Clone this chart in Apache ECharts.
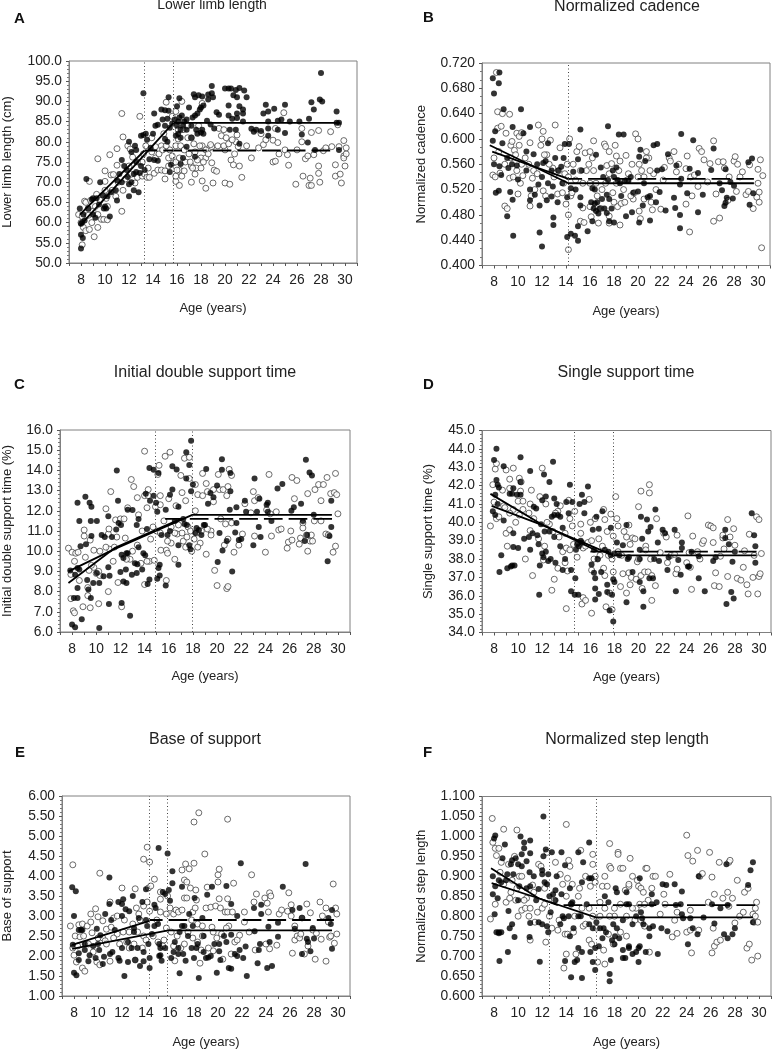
<!DOCTYPE html>
<html><head><meta charset="utf-8">
<style>html,body{margin:0;padding:0;background:#fff}#c{width:772px;height:1050px}</style>
<script src="https://cdn.jsdelivr.net/npm/echarts@6/dist/echarts.min.js"></script>
</head><body><div id="c"></div>
<script>
const xTickLabels=[8,10,12,14,16,18,20,22,24,26,28,30];
const xTickMarks=[7,8,9,10,11,12,13,14,15,16,17,18,19,20,21,22,23,24,25,26,27,28,29,30,31];

const aFilled=[[8,53.6],[8,57],[8.15,56.2],[7.9,63.5],[8.1,60],[8,59.7],[8.2,62],[8.45,70.8],[8.9,65.7],[9,62],[9.2,61.2],[9.3,66],[9.6,70],[9.5,64.5],[9.8,66.8],[10,64],[10.1,63.5],[10.4,61.5],[10.2,66.5],[10.9,68],[11,65.5],[11.2,72],[11.4,75.5],[11.6,74],[11.8,73],[11.9,71.3],[12,66.5],[12,80],[12.2,77.5],[12.4,72],[12.5,79],[12.6,78],[12.2,70],[12.4,68],[12.8,67.5],[12.6,72.5],[12.9,72.3],[13,81.5],[13.2,81.7],[13.4,82],[13.2,92],[13.3,73],[13.5,80.5],[13.8,78.5],[13.7,75.7],[14,82],[14.2,84],[14.4,84.2],[14.1,75.5],[14.4,75.3],[14.1,87],[14.7,88],[15,87.8],[15,80.7],[15.2,80],[15.3,91],[15.3,87.7],[15,84],[14.8,85.5],[15.2,85.7],[15.4,83.5],[15.4,72.5],[15.5,74.3],[16,88.8],[16,84],[16.1,85],[16.2,86],[16.3,83],[16.4,86.5],[16.1,82],[16.3,81],[15.9,81.5],[16.2,90.8],[16.6,85],[16.8,83],[16.3,74.5],[16.5,76],[16.8,78.8],[17,88.5],[17.3,86],[17.5,86.5],[17.7,87],[17.9,88],[18,88.5],[18.2,89],[17.4,91.8],[17.5,91],[17.8,91.5],[18.1,91.2],[18.6,91.7],[18.6,90.5],[18.9,92],[18.9,93.8],[19,91],[17.2,81],[17.5,76.3],[17.7,82],[18,82.3],[18.1,83],[18.5,85.2],[18.8,84.3],[19.1,83.3],[19.3,87.3],[19.5,86.7],[20,93.2],[20.3,93.2],[20.5,93.2],[20.9,92.8],[20.7,91.5],[21,91],[20.3,89],[21,87],[21.2,88.8],[20.3,86.5],[20.6,85.7],[21,85.9],[21.5,87],[21.5,88],[21.2,93.3],[21.6,92.7],[21.8,91],[21.5,85],[20.9,83],[20.4,83],[21.2,79.5],[22.2,83.2],[22.4,82.5],[22.6,83],[23,82.7],[23.2,87],[23.4,89.2],[23.6,81.5],[23.6,83.3],[23.6,85],[23.6,87.5],[24.1,88.2],[24.4,83],[24.4,85.2],[24.7,85.5],[25,82.2],[25,89.2],[25.4,85],[26.2,85],[26.4,81.8],[27,85.7],[27.2,89.8],[27.4,88],[27.5,78],[26.9,79.8],[27.9,90.5],[28.1,90],[28,97],[29.3,87.5],[29.3,84.7],[29.5,84.7],[29.5,78],[16.5,84],[16.8,85.5],[15.6,84.5],[15.8,85.5],[17.2,84],[17.6,83],[18.2,82],[11,70.5],[11.4,70],[12,69.5],[12.6,75],[13,74],[10.5,67.5],[9.9,63.5],[9,66],[8.6,63.5],[8.3,60.5]];
const aOpen=[[7.8,62],[8,60],[8.1,54.5],[8.2,58.8],[8.4,58],[8.7,58.3],[9.1,56.5],[9.4,58.8],[8.1,61.5],[8.3,65.3],[8.4,65],[8.6,61.8],[8.7,70.2],[8.8,65.5],[9,62.8],[9.3,67],[9.4,75.8],[9.4,62],[9.7,60.8],[9.6,65.5],[9.9,60.8],[10,68],[10,70.2],[10,72.8],[10.2,60.7],[10.2,64],[10.4,76.8],[10.5,71.8],[10.7,71.9],[10.9,66.5],[11,74.2],[11,78.3],[11.1,70],[11.4,62.8],[11.4,87],[11.5,81.2],[11.7,70.8],[11.9,79],[12,74],[12.1,78.2],[12.3,76.2],[12.5,69.8],[12.7,71.2],[12.9,86.3],[13.1,75],[13.1,71.5],[13.3,72],[13.4,79],[13.5,71.2],[13.7,71.2],[13.9,81],[14.1,72.2],[14.4,73],[14.2,76],[14.7,73],[14.7,79],[15,70.8],[15,72.8],[15.1,89.8],[15.3,76],[15.4,78],[15.6,86.3],[15.7,74.8],[15.9,70.2],[15.9,71.5],[16.2,73],[16.2,69.2],[16.4,71.5],[16.6,72.8],[15.9,87.5],[15.9,79],[16.1,80.7],[16.5,83],[16.4,90],[16.9,81],[17.2,81],[17.2,70],[17.2,74],[17.4,79.5],[17.5,72],[17.6,73.5],[17.8,84],[18,76],[18.1,79],[18.1,89.5],[18.1,70.3],[18.4,68.5],[18.4,76],[18.7,78.5],[18.9,74.8],[18.9,78.8],[19,69.8],[19.1,73],[19.3,72.7],[19.4,79],[19.5,83.3],[19.7,81.5],[19.9,83],[20,78],[20.1,81],[20,69.8],[20.4,69.5],[20.5,75.5],[20.7,74.3],[20.8,77],[20.9,80],[21.1,78.8],[21.2,74],[21,81.7],[21.4,71.2],[21.8,79],[22.2,76],[22.8,78.5],[23,82],[23.2,79.3],[23.4,80.5],[24,80.4],[24,75],[24.2,75.2],[24.2,83.3],[24.4,79.8],[24.5,77],[24.9,87.2],[25,78],[25.2,76.8],[25.3,74.2],[25.9,69.5],[26,78],[26.4,83.3],[26.4,80],[26.5,71.5],[26.7,75.8],[26.9,76.5],[27,69.2],[27.1,71],[27.2,69.2],[27.2,82.3],[27.4,76.8],[27.8,82.8],[27.8,74],[27.8,72.2],[27.9,70],[28.2,77.8],[28.4,78.5],[28.8,82.5],[28.9,78.8],[29.2,74.3],[29.2,71.5],[29.5,78.8],[29.6,72],[29.7,69.8],[29.9,80.3],[29.9,76.5],[30,74],[29.9,76],[30.1,77],[30.1,78.5],[29.4,84.2],[13.9,77.5],[14.2,78.8],[14.5,77],[14.8,78],[15.1,79],[15.3,74],[15.6,76.5],[15.9,75],[16,73],[16.2,76],[16.3,79],[16.6,78],[16.7,75],[17,77],[17.1,75],[17.3,73.5],[17.5,77.5],[17.7,75.5],[17.9,79],[18,73.5],[18.2,75],[18.4,78],[18.6,77],[18.8,79.3],[12.2,72],[11.5,68],[10.6,68],[10.1,66],[9.2,64],[8.9,60],[8.6,63.5],[12.7,75],[13.2,77],[13.6,73.5],[14.9,82],[16.1,83],[16.9,84],[19.9,79],[20.3,79.5],[20.6,80.5]];
const aLines={solid:[[7.9,59.2],[15.7,84.7],[29.6,84.7]],slope:[[7.9,62],[13.3,77.85]],dash:[[13.3,77.85],[28.8,77.85]]};
const aBreaks=[13.25,15.65];

const bFilled=[[7.9,.696],[8,.672],[8.4,.688],[8.45,.705],[8.1,.612],[7.9,.597],[8,.56],[8.15,.515],[8.4,.518],[8.45,.557],[8.6,.543],[8.7,.593],[8.8,.647],[9.1,.478],[9.2,.554],[9.35,.516],[9.55,.619],[9.55,.504],[9.6,.447],[9.9,.558],[10,.536],[10.25,.647],[10.45,.609],[10.7,.55],[11,.619],[11,.503],[11,.52],[11.3,.576],[11.4,.512],[11.8,.495],[11.7,.528],[11.8,.452],[12,.43],[12.1,.562],[12.4,.503],[12.5,.593],[12.5,.53],[12.8,.509],[12.95,.476],[12.95,.464],[12.9,.525],[13.1,.57],[13.35,.55],[13.6,.556],[13.8,.57],[13.9,.592],[14.25,.592],[14.1,.508],[14.1,.445],[14.4,.45],[14.4,.522],[14.6,.548],[14.75,.447],[15,.439],[15,.462],[15,.568],[15.2,.615],[15.2,.508],[15.2,.495],[15.8,.454],[16.2,.47],[16.2,.522],[16.4,.52],[16.4,.498],[16.5,.486],[16.7,.482],[16.8,.49],[16.5,.575],[16.9,.555],[17,.505],[17.1,.54],[17.4,.483],[17.4,.512],[17.5,.62],[17.6,.505],[17.6,.47],[17.8,.49],[17.9,.55],[18,.468],[18.2,.555],[18.3,.535],[18.4,.607],[18.8,.607],[18.6,.51],[18.9,.534],[19,.478],[19.2,.534],[19.5,.484],[19.6,.515],[20.1,.468],[20,.517],[20.1,.572],[20.2,.583],[20.4,.495],[20.6,.565],[20.8,.508],[21,.51],[21,.471],[21.3,.59],[21.5,.5],[21.6,.55],[21.6,.592],[21.8,.516],[22,.552],[22.3,.487],[22.5,.576],[23,.507],[23.1,.491],[23.2,.558],[23.5,.48],[23.5,.459],[23.6,.537],[23.6,.608],[23.5,.528],[24.1,.514],[24.3,.553],[24.6,.598],[25,.484],[25,.546],[25.4,.512],[26.1,.551],[26.3,.585],[26.8,.53],[27,.519],[27.2,.494],[27.3,.499],[27.3,.552],[27.4,.507],[27.7,.532],[27.9,.506],[28,.526],[29.2,.563],[29.3,.496],[29.5,.569],[29.6,.514],[11.6,.56],[12,.54],[12.3,.565],[12.8,.55],[13.3,.5],[13.7,.53],[16.1,.5],[16.3,.49],[16.6,.5],[17.2,.49],[17.5,.535],[18,.54],[18.5,.53],[19.4,.54],[20.5,.53],[9.1,.57],[9.5,.56],[10.7,.58],[15.3,.55],[14.8,.52]];
const bOpen=[[7.9,.543],[8,.57],[8.1,.54],[8.2,.705],[8.3,.643],[8.3,.617],[8.5,.546],[8.6,.62],[8.7,.64],[8.9,.494],[9,.609],[9.1,.49],[9.3,.639],[9.3,.538],[9.4,.59],[9.5,.596],[9.6,.54],[9.7,.582],[9.9,.609],[10,.513],[10.1,.604],[10.1,.59],[10.2,.53],[10.3,.61],[10.4,.542],[10.6,.57],[11,.594],[11,.494],[11.1,.51],[11.2,.538],[11.4,.52],[11.7,.622],[11.9,.59],[12,.6],[12.1,.612],[12.1,.518],[12.3,.51],[12.4,.575],[12.7,.598],[12.9,.554],[13.1,.622],[13.3,.513],[13.5,.586],[13.7,.515],[13.9,.545],[14,.497],[14.1,.56],[14.2,.48],[14.2,.425],[14.2,.54],[14.3,.6],[14.4,.51],[14.6,.56],[14.9,.58],[15.1,.588],[15.2,.47],[15.2,.55],[15.4,.491],[15.5,.468],[15.6,.578],[15.9,.56],[16,.493],[16,.58],[16.1,.477],[16.3,.597],[16.3,.55],[16.5,.53],[16.7,.467],[17,.52],[17.2,.592],[17.3,.588],[17.4,.558],[17.6,.478],[17.6,.467],[17.6,.58],[17.8,.561],[18,.5],[18.1,.59],[18.2,.573],[18.3,.493],[18.5,.464],[18.5,.565],[18.6,.498],[18.9,.5],[19,.574],[19.2,.545],[19.5,.56],[19.6,.505],[19.7,.515],[19.8,.608],[20,.6],[20.1,.486],[20.2,.474],[20.1,.56],[20.5,.54],[20.7,.58],[20.9,.57],[21.1,.5],[21.2,.488],[21.3,.545],[21.5,.52],[21.9,.489],[22.1,.535],[22.2,.555],[22.6,.57],[22.7,.565],[23,.58],[23.2,.548],[23.4,.56],[24,.553],[24,.497],[24.1,.573],[24.3,.453],[24.4,.54],[24.5,.51],[24.7,.543],[25,.525],[25.1,.585],[25.3,.58],[25.5,.567],[25.8,.532],[26,.561],[26.3,.597],[26.3,.47],[26.5,.513],[26.7,.564],[26.8,.475],[27.1,.564],[27.2,.554],[27.5,.503],[27.6,.54],[28,.565],[28.1,.572],[28.2,.517],[28.3,.56],[28.5,.54],[28.7,.548],[29,.512],[29.2,.517],[29.3,.559],[29.6,.49],[29.9,.508],[30,.53],[30.1,.516],[30,.552],[30.1,.5],[30.2,.567],[30.3,.428],[30.4,.542],[9.8,.575],[10.3,.56],[10.9,.56],[11.3,.55],[11.6,.545],[12.2,.575],[12.6,.56],[13,.54],[13.4,.55],[13.8,.53],[14.5,.515],[14.8,.535],[15.4,.53],[15.7,.55],[16,.53],[16.2,.57],[16.6,.51],[16.9,.49],[17.3,.53],[17.6,.545],[17.9,.515],[18.2,.53],[18.4,.55],[18.8,.52],[19.1,.535],[19.4,.51],[20,.54],[20.3,.55],[20.7,.57],[20.5,.505],[21,.55],[8.4,.58],[8.9,.56],[9.4,.57],[9.9,.55]];
const bLines={solid:[[7.65,.59],[14.2,.53],[29.66,.53]],slope:[[7.85,.58],[14.2,.537]],dash:[[14.2,.537],[29.66,.537]]};
const bBreaks=[14.15];

const cFilled=[[8,6.37],[8.25,6.23],[10.25,6.2],[8.8,6.63],[12.8,6.8],[8.15,7.68],[8.45,7.68],[9.55,7.68],[11.05,7.39],[12.1,7.44],[8.45,8.18],[9.35,8.1],[8.45,9.17],[7.85,9.05],[8.25,8.84],[8.6,9.09],[8.7,10.24],[8.45,12.4],[8.6,11.5],[9.1,12.7],[9.45,12.4],[9.6,12.2],[9.15,10.35],[9.55,11.5],[10.05,11.5],[9.6,10.75],[9.25,8.57],[9.75,8.43],[10.25,8.43],[10.05,8.92],[10.6,8.76],[11.1,8.79],[11,9.2],[10.45,10.8],[11,11.73],[11.7,14],[11.8,12.5],[11.65,11.07],[11.85,11.4],[12.05,11.3],[12.1,9.83],[12.25,9.66],[12,8.97],[12.45,9.09],[12.25,8.5],[12.5,8.43],[12.6,9.9],[12.95,8.84],[13.35,8.92],[12.6,12.05],[13,12.04],[13.35,11.3],[13.5,11.6],[13.2,9.4],[13.4,9.35],[13.8,9.1],[14.05,9.8],[14.25,8.38],[14.4,8.6],[14.4,14.12],[14.75,14.03],[14.1,12.85],[14.45,12.5],[14.75,12.75],[14.95,12.4],[15.05,11.95],[15.15,9.17],[15.05,8.63],[15.25,8.8],[15.25,9.33],[15.15,13.87],[15.75,8.3],[15.75,12.05],[16.1,12.8],[16.3,14.2],[16.65,14.05],[16.3,13.05],[16.8,12.2],[16.8,9.33],[17.45,14.9],[17.45,13.6],[17.7,14.27],[17.85,15.47],[18,13.3],[17.85,12.97],[17.3,11.35],[17.7,10.3],[18.3,11.15],[18.5,11.05],[18.9,11.3],[19.1,14.07],[19.25,12.35],[19.45,12.88],[19.7,12.67],[20,13.25],[20.05,9.47],[20.2,10.9],[20.4,14.55],[20.4,14.03],[20.45,10.03],[20.8,10.5],[21.1,13.87],[21.1,12.97],[21.05,12.05],[21.25,9],[21.5,10.93],[21.6,12.17],[21.6,11.4],[21.8,10.55],[22,10.6],[22.3,12.5],[22.4,11.95],[23,10.3],[23.1,13.6],[23.45,11.2],[23.5,12.6],[23.6,10.7],[23.3,11.95],[24.1,12.3],[24.2,12.4],[24.2,11.95],[24.5,11.5],[25,13.1],[25.4,13.33],[26.15,12],[26.35,12.17],[26.95,12.35],[27.1,11.5],[27.35,14.53],[27.25,10.5],[27.45,10.8],[27.65,13.9],[27.85,13.75],[28,11.8],[29.15,9.5],[29.3,10.75],[29.45,11.2],[29.45,12.5],[16.1,11],[16.5,11.5],[16.8,10.3],[17.2,11.6],[17.5,11.3],[17.8,10.1],[18.2,10.9],[18.7,10.8],[19,11.3],[15.4,10.8],[15.9,10.8],[13.5,10.2],[13.9,9.9],[14.2,11.1],[12.5,9.9],[11.3,10.7],[10.7,10.7]];
const cOpen=[[7.7,10.15],[7.9,8.85],[7.9,7.65],[8.1,7.05],[8.2,6.95],[8,9.95],[8.2,9.5],[8.3,9.9],[8.5,9.95],[8.6,8.55],[8.9,7.25],[9,11.05],[9,10.75],[9.1,9.7],[9.3,8.2],[9.3,7.8],[9.4,9.05],[9.5,7.2],[9.5,10.55],[9.8,10.05],[9.8,9.2],[10,8.9],[10.2,7.4],[10.3,10],[10.3,8.8],[10.8,12.1],[11,10.85],[11.05,11.1],[11,8],[11.1,10.1],[11.2,12.95],[11.4,9.5],[11.6,11.55],[11.7,10.7],[11.8,8.45],[12,11.6],[12.1,7.25],[12.3,11.6],[12.4,10.65],[12.6,12.15],[12.8,9.6],[12.9,13.55],[13.1,13.2],[13.4,12.65],[13.5,11.8],[13.8,11],[14,12.75],[14,8.35],[14,14.95],[14.2,12.15],[14.3,13.05],[14.3,12.75],[14.4,9.5],[14.8,9.55],[14.9,12.2],[15.1,13.8],[15.2,14.25],[15.3,12.3],[15.3,12.75],[15.35,10.05],[15.7,14.7],[15.8,8.55],[15.8,10.05],[15.9,9.9],[16,12.6],[16.1,14.9],[16.2,10.4],[16.5,9.6],[16.6,12.25],[16.7,10.85],[17,13.75],[17.1,12.9],[17.2,10.5],[17.3,14.6],[17.4,12.5],[17.5,10.7],[17.7,13.6],[17.7,14.65],[17.9,10],[18.2,13.3],[18.2,12],[18.3,10.9],[18.4,12.8],[18.6,10.4],[18.8,12.75],[18.8,13.85],[19.1,9.85],[19.1,13.35],[19.2,12.95],[19.5,11],[19.7,12.45],[19.8,9.05],[19.7,13.05],[20,8.3],[20.1,13.8],[20.2,13.05],[20.5,13.05],[20.7,11.35],[20.8,8.15],[20.8,12.75],[20.9,8.25],[20.9,13.2],[20.9,10.6],[21,14.05],[21.2,13.75],[21.2,11.4],[21.4,9.95],[21.8,10.3],[22.1,10.85],[22.3,12.35],[22.8,11.9],[23,12.95],[23.1,10.75],[23.1,12.5],[23.4,12.65],[24,9.95],[24.1,12.05],[24.3,13.8],[24.4,11.85],[24.5,10.75],[24.9,11.95],[25.1,11.05],[25.3,11.1],[25.8,10.15],[25.9,10.45],[26.2,13.65],[26.2,10.55],[26.1,11],[26.4,12.6],[26.6,13.5],[26.8,10.35],[26.9,10.65],[27.1,11.4],[27.1,11.15],[27.4,10.8],[27.5,10],[27.5,12.85],[27.7,10.5],[27.8,10.8],[27.9,10.5],[28.05,11.5],[28.1,13.05],[28.4,13.3],[28.6,12.5],[28.6,11.5],[28.8,13.3],[29,10.85],[29.1,13.65],[29.2,10.8],[29.4,12.85],[29.6,9.95],[29.7,12.9],[29.8,13.85],[29.8,10.25],[29.9,12.8],[30,11.85],[15,11],[15.3,10.9],[15.6,11.5],[15.9,10.5],[16.2,11.2],[16.5,10.9],[16.8,11.3],[17.1,10.9],[17.4,10.2],[17.6,11.2],[17.8,11],[18.1,10.6],[18.4,10.2],[18.7,11],[19.2,11.1],[19.5,10.8],[20.6,10.3],[20.3,11.6],[12.5,9.6],[13,10],[13.4,10.3],[13.7,9.4],[14.2,9.5],[14.5,10.6],[14.7,11.2],[11.5,10.2],[10.8,10.2],[10.2,9],[9.6,9.3]];
const cLines={solid:[[7.7,9],[11.5,10.1],[17.95,11.8],[29.5,11.8]],slope:[[7.7,8.43],[11.5,10.15],[17,11.6]],dash:[[15.7,11.6],[29.6,11.6]]};
const cBreaks=[14.9,17.95];

const dFilled=[[8.2,44],[8,43.4],[8.2,42.3],[8.3,42.05],[8.4,41.9],[8.1,41.5],[7.9,40.6],[8.1,40.4],[8.3,41],[8.45,37.3],[8.6,38.2],[8.8,40.1],[8.8,43.05],[9.1,37.5],[9.3,41.55],[9.4,37.6],[9.5,37.65],[9.5,41.55],[9.6,38.65],[9.6,41.85],[9.6,39.4],[9.7,37.65],[9.9,41.5],[10,38.6],[10.2,41.5],[10.2,42.2],[10.2,43.55],[10.5,39.1],[10.9,39.2],[11,38.5],[11,42.8],[11.2,39.4],[11.3,40.85],[11.5,40.75],[11.6,39.3],[11.7,38.8],[11.75,36.05],[11.8,37.65],[12,38.3],[12,41.2],[12.1,38.1],[12.15,42.6],[12.3,38.4],[12.3,41.4],[12.5,37.9],[12.6,42.2],[12.7,38],[12.8,40.3],[12.9,43.3],[13,41.3],[13,39.2],[13.1,37.8],[13.2,41],[13.5,40.3],[13.5,38.7],[13.7,39.7],[13.7,37.4],[13.9,38],[14,41.1],[14.2,40.5],[14.3,42.05],[14.4,37.4],[14.4,36.25],[14.5,41.1],[14.7,36.05],[14.75,36.95],[14.8,38.5],[15,36.05],[15.05,38.7],[15.1,41],[15.2,39],[15.3,41.5],[15.5,41.1],[15.5,40.5],[15.8,41.95],[16.1,37.7],[16.2,39.6],[16.3,37.25],[16.4,36.95],[16.4,35.8],[16.4,36.4],[16.5,40.3],[16.7,36.1],[16.7,39.65],[16.9,37.3],[17,40.6],[17.4,36.2],[17.4,36.6],[17.5,38.4],[17.6,35.2],[17.7,39.7],[17.8,36.05],[17.9,36.9],[17.9,34.6],[18,36.75],[18.2,38.9],[18.7,38.75],[19,39.85],[19.1,38],[19,35.65],[19.5,37.3],[20.1,36.75],[20.1,38.5],[20.2,40.3],[20.3,39.1],[20.4,36.25],[20.4,35.4],[20.7,40.15],[20.8,39.5],[20.9,36.95],[21,39.75],[21.2,36.95],[21.4,40.7],[21.6,38.9],[21.7,37.9],[22,39.6],[22.2,39.4],[22.4,37.4],[22.5,38.1],[23,39.6],[23.1,36.25],[23.3,37.95],[23.5,37.15],[23.6,38.9],[23.6,38.6],[24.1,37.6],[24.2,37.6],[24.4,38.4],[25,36.95],[25,38.15],[25.5,36.25],[26.2,37.9],[26.4,38.1],[27.2,39.6],[27.2,39.15],[27.3,35.55],[27.5,38.8],[27.7,36.2],[27.8,37.85],[27.9,35.85],[28,38.4],[29.4,40.5],[29.6,39.3],[29.7,38.7],[29.7,37.8],[11.9,39.9],[12.2,39.5],[12.6,39.5],[13,40.4],[13.3,40.4],[14.9,38.8],[15.3,38.9],[16.3,38.5],[16.6,38],[17.2,38.5],[17.7,38.2],[18,38.3],[18.4,38.2],[19.2,38.1],[20.1,38],[21.3,38]];
const dOpen=[[7.7,39.8],[7.9,42.05],[8,41.1],[8.1,42.9],[8.2,43.2],[8.2,40.2],[8.4,40.3],[8.7,41.75],[8.8,40.9],[9,42.85],[9,39.4],[9.1,38.7],[9.3,42.35],[9.3,41.85],[9.3,39.6],[9.6,42.95],[9.8,40],[10,41.15],[10.1,42.4],[10.2,41.7],[10.25,42.2],[10.4,41.15],[10.6,38],[11,41],[11,39.55],[11.1,41.75],[11.2,37.1],[11.7,39.1],[11.8,41.4],[12,42.95],[12.1,37.95],[12.2,38.7],[12.3,41],[12.6,39.9],[12.8,36.3],[13,36.9],[13.3,37.5],[13.3,40.6],[13.5,40.9],[13.7,38.4],[13.9,37.8],[14,38.6],[14,35.3],[14.1,37.35],[14.2,41.2],[14.3,40.2],[14.5,39.8],[14.7,40.6],[14.9,38.1],[15.2,39.9],[15.2,39.4],[15.3,35.55],[15.4,35.9],[15.6,35.75],[15.8,38.9],[15.9,41.25],[16,40],[16.1,37.4],[16.1,35.05],[16.4,40.2],[16.6,38],[16.7,39.1],[17,38.7],[17.1,40.7],[17.2,37.1],[17.2,40.15],[17.3,35.4],[17.4,39.5],[17.6,36.15],[17.7,40.45],[17.8,35.25],[17.9,37.3],[17.9,39.25],[18.1,41.4],[18.2,40.2],[18.3,39.8],[18.5,36.5],[18.7,37.2],[18.8,39.5],[19,36.15],[19.2,37.25],[19.2,39.85],[19.3,36.6],[19.4,37],[19.5,39.15],[19.7,39.1],[19.8,36.9],[19.9,37.85],[20,40.85],[20.2,37.1],[20.2,41.7],[20.3,36.4],[20.5,37.3],[20.6,38.7],[20.8,37.3],[20.9,42.05],[20.9,41.6],[21.1,35.75],[21.1,37.1],[21.4,36.55],[21.5,40.2],[21.8,38.35],[22.1,39.4],[22.3,39.2],[22.4,37.8],[22.7,38.2],[23,38.25],[23.1,37.2],[23.2,37.45],[23.2,39.3],[24,37.8],[24.1,40.35],[24.2,38.35],[24.3,37.55],[24.4,36.35],[24.5,39.25],[24.9,38.4],[25.1,38],[25.3,38.85],[25.4,39],[25.8,39.85],[26,39.8],[26.2,39.7],[26.2,38.9],[26.3,36.55],[26.4,37.25],[26.7,36.5],[26.8,38.15],[27,39.15],[27,39.3],[27.1,38.55],[27.4,40.15],[27.4,37.05],[27.6,39.2],[27.9,39.65],[28,38.75],[28.2,36.95],[28.5,36.85],[28.7,37.55],[28.8,38.45],[29,36.6],[29.2,39.35],[29.1,36.1],[29.5,37],[29.6,38.2],[29.8,40.3],[29.9,36.1],[30,37.05],[30,40.15],[30.1,37.2],[30.2,38.3],[9.6,40.7],[10.1,40.4],[10.4,40.7],[10.9,40.5],[11.3,40.2],[12.4,40],[12.9,39.5],[13.1,40.5],[13.4,39.2],[13.9,39.4],[14.3,38.5],[14.6,38.8],[15,38.9],[15.4,38.6],[15.6,38.7],[16.1,39],[16.3,38],[16.8,38.2],[17.1,37.5],[17.5,38.2],[17.8,38],[18.3,38.4],[18.6,38.2],[19,39.2],[19.3,38.8],[20,38],[20.6,38.5],[21,38],[8.9,40.8],[9.3,40.5]];
const dLines={solid:[[7.8,40.9],[11.8,39.9],[17.9,38.2],[29.8,38.2]],slope:[[7.7,41.55],[11.8,39.95],[16.7,38.4]],dash:[[16,38.4],[29.8,38.4]]};
const dBreaks=[14.7,17.9];

const eFilled=[[7.85,3.72],[8.15,3.62],[7.9,2.28],[8,3],[8,1.58],[8.2,1.52],[8.4,1.9],[8.4,2.07],[8.4,2.65],[8.6,2.65],[8.7,2.65],[8.9,2.15],[9.2,1.87],[9.3,2.02],[9.6,2.25],[9.8,1.95],[9.9,2.68],[10.1,2.15],[10.2,2.52],[10.4,1.8],[10.5,1.98],[10.6,3.05],[10.95,3.96],[10.95,3.3],[11,2.05],[11.1,2.9],[11.4,2.65],[11.7,3.35],[11.7,1.95],[11.8,1.88],[12,2.2],[12,3.3],[12,3],[12.1,3.42],[12.2,1.5],[12.3,3.17],[12.5,1.85],[12.6,3.12],[12.8,2.2],[12.9,3.5],[13,2.7],[13.1,1.9],[13.4,2.95],[13.5,1.75],[13.7,3.35],[13.8,1.87],[14,3.67],[14,2.9],[14.1,2.75],[14.3,1.95],[14.3,1.7],[14.5,2.55],[14.7,3.28],[14.8,3.2],[15,2.8],[15.05,4.7],[15.1,2],[15.2,2.2],[15.3,1.88],[15.4,3.6],[15.6,3.55],[15.8,4.56],[15.9,3.65],[16,3.38],[16.1,1.95],[16.2,4.12],[16.2,3.82],[16.4,2.35],[16.7,2.05],[16.8,1.57],[17,3.73],[17,2.75],[17.2,2.75],[17.3,1.88],[17.6,3.05],[17.9,2.75],[18,1.95],[18.05,3.45],[18.2,2.2],[18.4,1.45],[18.7,2.95],[18.8,2.1],[19,1.95],[19.1,3.53],[19.2,1.96],[19.4,2],[19.5,3.73],[19.9,1.58],[20.1,2.3],[20.1,2.12],[20.2,1.9],[20.5,2.5],[20.7,2.35],[20.7,3.75],[20.9,1.7],[21.1,1.68],[21.1,3.3],[21.1,2.53],[21.4,2.05],[21.6,2],[21.6,3],[21.8,2.15],[21.9,4.32],[22.1,1.95],[22.3,2.24],[22.4,1.5],[23.05,2.62],[23,3.2],[23.3,1.82],[23.4,2.15],[23.5,2.3],[23.6,3.05],[23.6,3.28],[24.1,1.7],[24.2,2.73],[24.3,2.35],[24.5,1.75],[25,2.48],[25,2.83],[25.4,3.73],[26.2,3.15],[26.4,2.68],[26.8,3.2],[27,2.05],[27,2.95],[27.3,4.3],[27.4,2.43],[27.5,2.35],[27.7,2.12],[27.9,2.7],[28,2.44],[29.2,2.95],[29.4,2.8],[29.5,3.15],[29.5,2.18],[8.9,2.3],[10,2.3],[11.2,2.1],[12.5,2.35],[13,2.6],[13.3,2.2],[13.8,2.1],[14.2,2.3],[14.7,2.75],[15.1,2.3],[15.6,2.2],[16.3,2.1],[16.7,2.2],[17.1,2.05],[17.5,2.5],[17.8,2.2],[18.3,2.3],[18.8,2.5],[19.7,2.3],[15.2,2.02],[16.8,2.6]];
const eOpen=[[7.7,2.75],[7.9,4.28],[7.9,2.2],[8,2.02],[8.1,2.5],[8.2,1.85],[8.4,2.78],[8.5,2.48],[8.7,1.7],[8.7,2.8],[8.9,1.62],[9,2.3],[9.1,2.75],[9.4,3.05],[9.5,2.58],[9.8,3.18],[9.9,1.85],[10,2.98],[10.15,1.78],[10.15,4.07],[10.4,2.88],[10.4,2.45],[10.6,2.38],[10.7,2.67],[11,3.35],[11,1.87],[11.1,2.72],[11.3,2.95],[11.6,3],[11.6,2.55],[12,3.7],[12.2,2.9],[12.4,2.35],[12.6,2.6],[12.9,2.8],[13.1,3.68],[13.1,1.9],[13.2,3.2],[13.4,3.05],[13.5,2.9],[13.8,3.25],[13.8,2.5],[13.8,4.42],[14.1,3.35],[14.1,4.72],[14.2,3.7],[14.3,4.35],[14.3,3.12],[14.4,3.75],[14.7,3.92],[14.9,2.9],[15.2,3.1],[15.2,3.6],[15.2,3.42],[15.5,2.4],[15.7,3.05],[15.8,3.5],[16,3.2],[16.1,2.6],[16.3,3.05],[16.3,2.25],[16.4,1.88],[16.5,3.15],[16.7,3.1],[17,3.15],[17,4.15],[17.2,3.9],[17.2,3.45],[17.3,4.3],[17.4,3.45],[17.4,3.85],[17.6,4.18],[17.7,3.7],[17.9,3.1],[17.9,2.45],[18,5.35],[18,4.32],[18.1,3.2],[18.15,3.65],[18.2,3.4],[18.3,2.8],[18.4,5.58],[18.5,1.82],[18.6,2.15],[18.7,2.75],[18.9,4.55],[19,3.2],[19.1,3.72],[19.4,3.22],[19.5,2.72],[19.6,2.13],[19.8,3.25],[19.9,2.45],[20,3.85],[20,4.03],[20.1,4.17],[20.1,3.43],[20.2,3.2],[20.4,1.92],[20.6,3.1],[20.8,5.42],[20.8,3.43],[20.8,3.1],[20.9,2.75],[21.1,2.05],[21.2,3.1],[21.3,3.82],[21.4,2.35],[21.6,2.4],[21.8,2.52],[22.2,2.85],[22.2,3.1],[22.6,2.6],[22.8,4.03],[23,3.35],[23.1,2.15],[23.2,3.55],[24,2.3],[23.9,3.45],[24.1,3.32],[24.2,3.1],[24.3,2.18],[24.3,3.58],[24.4,3.5],[24.9,2.27],[25.1,3.05],[25.3,3.15],[25.8,3.12],[25.9,3.58],[26.1,3.28],[26.1,3],[26.2,2.07],[26.4,2.4],[26.4,2.75],[26.6,2.5],[26.8,2.45],[26.9,2.55],[27,2.95],[27.2,2.05],[27.4,3.3],[27.5,2.25],[27.7,3.08],[27.9,2.65],[28.1,1.92],[28.2,2.57],[28.5,3.35],[28.6,2.42],[28.7,3],[29,3.2],[29,1.87],[29.2,2.85],[29.3,2.47],[29.4,2.5],[29.6,3.8],[29.7,2.32],[29.8,3.2],[29.9,3.05],[29.9,2.55],[8.8,2.5],[9.2,2.3],[9.6,2.1],[10,2.45],[10.7,2.3],[11.3,2.45],[11.8,2.3],[12.1,2.6],[12.6,2.2],[13,2.3],[13.3,2.6],[13.7,2.2],[14,2.4],[14.6,2.5],[15,2.35],[15.4,2.25],[15.7,2.7],[16.6,2.5],[16.9,2.2],[17.2,2.3],[17.5,2.6],[17.8,2.9],[18.3,2.35],[18.7,2.5],[19.2,2.2],[19.6,2.6],[20.3,2.55],[20.7,2.7],[8.3,2.25],[9.4,2.85]];
const eLines={solid:[[7.85,2.18],[15.85,2.64],[29.5,2.64]],slope:[[7.85,2.28],[14.3,2.88]],dash:[[14.3,2.9],[29.66,2.9]]};
const eBreaks=[14.3,15.8];

const fFilled=[[7.9,.9],[7.9,.855],[8,.995],[8.1,1.002],[8.1,.875],[8.05,.805],[8.2,.76],[8.3,.845],[8.4,.76],[8.4,.89],[8.4,.757],[8.45,.688],[8.6,.76],[8.6,.885],[8.7,.945],[8.9,.98],[9.1,.905],[9.15,.71],[9.2,.813],[9.3,.77],[9.5,.94],[9.5,.78],[9.6,.905],[9.7,.748],[9.8,.945],[10,.84],[10.1,.875],[10.2,1],[10.3,.925],[10.3,.955],[10.5,.985],[10.5,.97],[10.7,.938],[10.95,.91],[10.95,.748],[11,.875],[11,.783],[11,.958],[11,.99],[11.3,.9],[11.7,.785],[11.7,.868],[11.8,.686],[12,.78],[12,.915],[12,.905],[12.1,1.05],[12.1,.95],[12.2,.885],[12.3,.967],[12.4,.88],[12.4,.775],[12.5,.76],[12.5,.905],[12.7,.81],[12.8,.96],[12.9,.855],[13.1,.865],[13.2,.9],[13.6,.96],[13.6,.855],[13.7,.8],[13.8,.795],[13.9,.688],[13.9,.928],[14.2,.8],[14.3,.87],[14.3,.75],[14.4,.647],[14.5,.835],[14.6,.77],[14.7,.685],[14.9,.69],[15,.96],[15,.72],[15.2,.8],[15.3,.71],[15.3,.645],[15.4,.935],[15.3,.885],[15.9,.985],[15.9,.895],[15.9,.78],[16,.71],[16.1,.895],[16.2,.685],[16.4,.665],[16.4,.72],[16.5,.785],[16.7,.725],[17,.745],[17.1,.77],[17.2,.85],[17.5,.835],[17.6,.655],[17.6,.637],[17.7,.69],[17.9,.78],[18,.73],[18.05,.75],[18.1,.87],[18.2,.86],[18.4,.745],[18.7,.79],[18.7,.715],[18.7,.695],[18.9,.695],[19,.83],[19,.86],[19.2,.725],[19.2,.72],[19.5,.78],[19.5,.705],[19.8,.71],[20,.72],[20,.685],[20.1,.725],[20.1,.895],[20.2,.81],[20.3,.795],[20.4,.78],[20.6,.71],[20.9,.77],[20.9,.75],[21.2,.775],[21.1,.855],[21.5,.835],[21.6,.705],[21.9,.77],[22,.88],[22.3,.878],[22.4,.762],[23,.88],[23.1,.828],[23.5,.83],[23.6,.805],[23.6,.862],[23.7,.795],[24.1,.73],[24.3,.795],[24.5,.77],[24.9,.755],[25,.9],[25.4,.797],[26.1,.83],[26.3,.782],[26.8,.82],[27.1,.755],[27.3,.93],[27.4,.828],[27.4,.745],[27.8,.755],[28,.77],[29.1,.878],[29.3,.915],[29.5,.935],[29.5,.785],[9,.89],[9.4,.93],[10,.93],[10.7,.87],[11.5,.84],[12.6,.85],[13.1,.84],[13.5,.78],[14.4,.83],[15,.8],[15.7,.83],[16.2,.77],[16.8,.77],[17.3,.76],[17.8,.74],[18.2,.77],[19.2,.83],[19.8,.8],[21.1,.83]];
const fOpen=[[7.7,.793],[7.85,1.045],[7.9,.985],[8.1,.97],[8.1,.83],[8.2,.952],[8.4,.97],[8.6,.935],[8.8,1.018],[9,.835],[9.2,.93],[9.3,.845],[9.5,.89],[9.7,.95],[9.8,.84],[9.9,1.016],[10.1,.9],[10,.8],[10.3,.815],[10.3,.9],[10.6,.82],[10.7,.845],[11,.74],[11,.82],[11.2,.878],[11.4,.785],[11.7,.93],[11.9,.925],[12,.82],[12.2,.87],[12.3,.735],[12.4,.96],[12.8,.77],[13.1,.935],[13.3,.765],[13.5,.905],[13.8,.67],[13.9,.755],[14,.705],[14,1.03],[14.1,.895],[14.1,.755],[14.2,.94],[14.3,.925],[14.5,.88],[14.6,.76],[14.8,.705],[15.1,.87],[15.2,.965],[15.4,.775],[15.6,.9],[15.9,.74],[16,.875],[16.1,.73],[16.2,.93],[16.2,.955],[16.4,.9],[16.4,.885],[16.6,.685],[16.8,.835],[17,.875],[17.1,.715],[17.2,.68],[17.2,.9],[17.4,.875],[17.5,.755],[17.6,.982],[17.6,.925],[17.7,.92],[17.9,.73],[18,.8],[18.3,.96],[18.3,.955],[18.5,.92],[18.5,.76],[18.7,.92],[18.9,.865],[19,.75],[19.2,.875],[19.2,.88],[19.3,.945],[19.5,.9],[19.7,.79],[19.8,.82],[19.9,.89],[20,.875],[20.1,.83],[20.2,.87],[20.4,.86],[20.5,.775],[20.6,.92],[20.7,.92],[20.8,.84],[20.9,.71],[21.1,.87],[21.2,.9],[21.4,.9],[21.8,.805],[22.1,.855],[22.2,.83],[22.6,.905],[22.8,.748],[23,.79],[23.2,.757],[23.2,.81],[24,1.003],[24,.76],[24.1,.952],[24.3,.765],[24.3,.815],[24.4,.708],[24.5,.938],[24.9,.965],[25,.765],[25.1,.9],[25.3,.907],[25.8,.835],[25.9,.96],[26.1,.898],[26.1,.708],[26.2,.77],[26.3,.855],[26.3,.725],[26.5,.735],[26.7,.935],[26.8,.74],[27,.845],[27.4,.86],[27.5,.935],[27.5,.825],[27.6,.94],[27.8,.845],[28,.783],[28.2,.89],[28.4,.8],[28.7,.81],[28.8,.86],[29,.72],[29.1,.87],[29.2,.73],[29.4,.69],[29.5,.805],[29.6,.785],[29.7,.82],[29.7,.8],[29.8,.835],[29.9,.7],[29.9,.785],[8.5,.91],[8.8,.88],[9.4,.86],[9.9,.87],[10.5,.84],[10.9,.8],[11.3,.86],[11.6,.81],[12.2,.83],[12.6,.8],[13,.84],[13.4,.79],[13.7,.88],[14,.85],[14.4,.83],[14.7,.8],[15,.85],[15.3,.82],[15.6,.78],[15.9,.82],[16.2,.8],[16.5,.77],[16.8,.8],[17.2,.82],[17.6,.8],[18,.82],[18.5,.83],[19,.8],[19.5,.82],[20.2,.79],[20.5,.83]];
const fLines={solid:[[7.8,.883],[11.7,.845],[16.45,.797],[29.5,.797]],slope:[[7.75,.92],[11.7,.845],[13.3,.828]],dash:[[13.77,.828],[29.8,.828]]};
const fBreaks=[12.55,16.45];

const panels=[
 {title:'Lower limb length',fs:14,letter:'A',tx:212,ty:5,lx:14,ly:19,yName:'Lower limb length (cm)',box:[68,61,289,202],y:[50,100,5,1,5],dec:1,filled:aFilled,open:aOpen,lines:aLines,breaks:aBreaks,nameGapY:55,nameGapX:39,dashOff:6},
 {title:'Normalized cadence',fs:16,letter:'B',tx:627,ty:7,lx:423,ly:18,yName:'Normalized cadence',box:[482,63,288,202.5],y:[.4,.72,.04,4,3],dec:3,filled:bFilled,open:bOpen,lines:bLines,breaks:bBreaks,nameGapY:54,nameGapX:39,dashOff:5},
 {title:'Initial double support time',fs:16,letter:'C',tx:205,ty:373,lx:14,ly:385,yName:'Initial double support time (%)',box:[60,430,290,202],y:[6,16,1,1,5],dec:1,filled:cFilled,open:cOpen,lines:cLines,breaks:cBreaks,nameGapY:46,nameGapX:38,dashOff:0},
 {title:'Single support time',fs:16,letter:'D',tx:626,ty:373,lx:423,ly:385,yName:'Single support time (%)',box:[482,430.5,289,202],y:[34,45,1,1,5],dec:1,filled:dFilled,open:dOpen,lines:dLines,breaks:dBreaks,nameGapY:47,nameGapX:38,dashOff:0},
 {title:'Base of support',fs:16,letter:'E',tx:205,ty:740,lx:15,ly:753,yName:'Base of support',box:[60,796,290,202],y:[1,6,.5,1,5],dec:2,filled:eFilled,open:eOpen,lines:eLines,breaks:eBreaks,nameGapY:48,nameGapX:40,dashOff:5.7},
 {title:'Normalized step length',fs:16,letter:'F',tx:627,ty:740,lx:423,ly:753,yName:'Normalized step length',box:[482,796.5,289,201.5],y:[.6,1.1,.05,1,5],dec:3,filled:fFilled,open:fOpen,lines:fLines,breaks:fBreaks,nameGapY:54,nameGapX:40,dashOff:0}
];
const FONT='"Liberation Sans",Arial,sans-serif', TXT='#222', AX='#808080';
const opt={animation:false,backgroundColor:'#fff',title:[],grid:[],xAxis:[],yAxis:[],series:[]};
panels.forEach((p,i)=>{
 const [l,t,w,h]=p.box;
 opt.title.push({text:p.title,left:p.tx,top:p.ty,textAlign:'center',textVerticalAlign:'middle',padding:0,textStyle:{fontFamily:FONT,fontSize:p.fs,fontWeight:'normal',color:TXT}});
 opt.title.push({text:p.letter,left:p.lx,top:p.ly,textVerticalAlign:'middle',padding:0,textStyle:{fontFamily:FONT,fontSize:15,fontWeight:'bold',color:'#111'}});
 opt.grid.push({left:l,top:t,width:w,height:h,show:true,borderColor:AX,borderWidth:1,backgroundColor:'transparent'});
 opt.xAxis.push({gridIndex:i,type:'value',min:7,max:31,name:'Age (years)',nameLocation:'middle',nameGap:p.nameGapX,
  nameTextStyle:{fontFamily:FONT,fontSize:13,color:TXT},splitLine:{show:false},
  axisLine:{lineStyle:{color:AX}},axisTick:{customValues:xTickMarks,length:3,lineStyle:{color:'#555'}},
  axisLabel:{customValues:xTickLabels,margin:10,fontFamily:FONT,fontSize:13.8,color:TXT}});
 opt.yAxis.push({gridIndex:i,type:'value',min:p.y[0],max:p.y[1],interval:p.y[2],name:p.yName,nameLocation:'middle',nameGap:p.nameGapY,
  nameTextStyle:{fontFamily:FONT,fontSize:13,color:TXT},splitLine:{show:false},
  axisLine:{show:true,lineStyle:{color:AX}},axisTick:{show:true,length:3,lineStyle:{color:'#555'}},
  minorTick:{show:true,splitNumber:p.y[4],length:2,lineStyle:{color:'#777'}},
  axisLabel:{margin:7,fontFamily:FONT,fontSize:13.8,color:TXT,formatter:v=>v.toFixed(p.dec)}});
 const base={xAxisIndex:i,yAxisIndex:i,silent:true};
 opt.series.push({...base,type:'scatter',data:p.open,symbolSize:6,itemStyle:{color:'#fff',borderColor:'#333',borderWidth:0.9},
  markLine:{silent:true,symbol:'none',label:{show:false},lineStyle:{type:[1,2.5],color:'#444',width:1},data:p.breaks.map(x=>({xAxis:x}))}});
 opt.series.push({...base,type:'scatter',data:p.filled,symbolSize:6,itemStyle:{color:'#000'}});
 opt.series.push({...base,type:'line',data:p.lines.solid,symbol:'none',lineStyle:{color:'#000',width:1.8}});
 opt.series.push({...base,type:'line',data:p.lines.slope,symbol:'none',lineStyle:{color:'#000',width:1.8}});
 opt.series.push({...base,type:'line',data:p.lines.dash,symbol:'none',lineStyle:{color:'#000',width:1.8,type:[18.7,6],dashOffset:p.dashOff}});
});
echarts.init(document.getElementById('c'),null,{renderer:'canvas'}).setOption(opt);
</script></body></html>
